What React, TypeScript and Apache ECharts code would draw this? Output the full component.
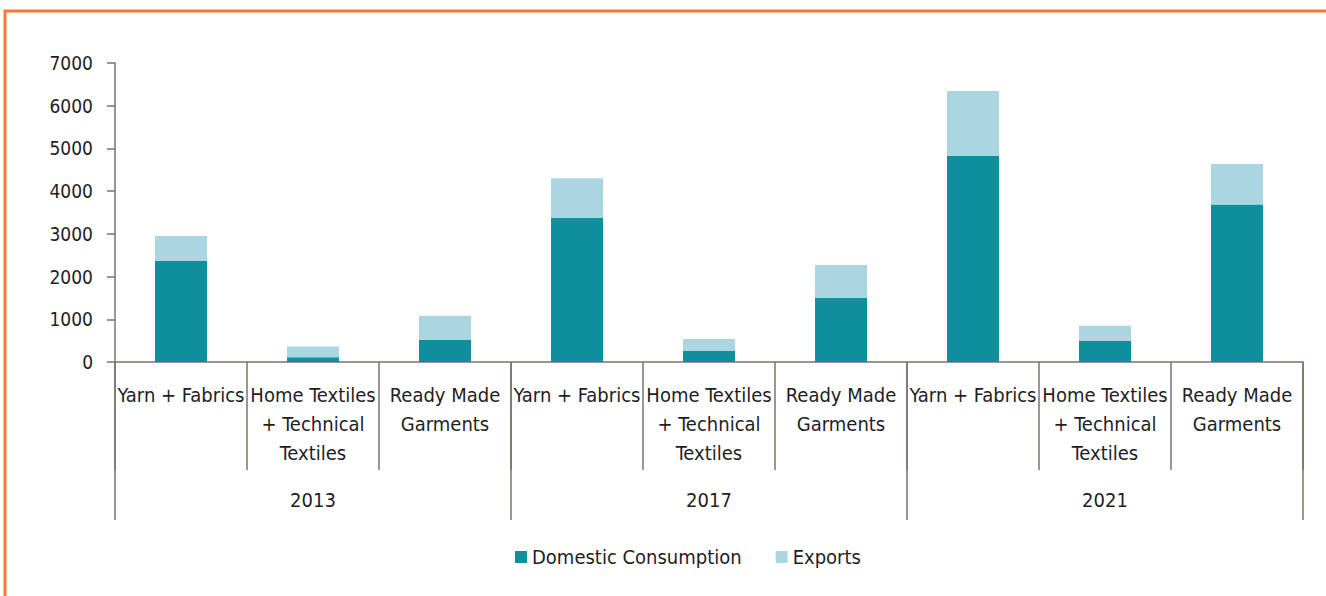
import React, { useEffect, useRef } from "react";
import * as echarts from "echarts";

const years = ["2013", "2017", "2021"];
const segments = ["Yarn + Fabrics", "Home Textiles\n+ Technical\nTextiles", "Ready Made\nGarments"];
const categories = years.flatMap((y) => segments.map((s) => `${y}|${s}`));
const domestic = [2370, 110, 515, 3380, 258, 1506, 4830, 500, 3690];
const exportsData = [580, 250, 565, 920, 280, 766, 1515, 350, 945];
const yTicks = [0, 1000, 2000, 3000, 4000, 5000, 6000, 7000];

const FONT = "'Liberation Sans Narrow', 'DejaVu Sans Condensed', 'Roboto', sans-serif";
const AXIS_COLOR = "#7d726e";
const TEXT_COLOR = "#1e1e24";

export default function App() {
  const ref = useRef<HTMLDivElement>(null);
  useEffect(() => {
    document.body.style.margin = "0";
    const chart = echarts.init(ref.current!, undefined, { renderer: "svg" });
    chart.setOption({
      animation: false,
      backgroundColor: "#ffffff",
      textStyle: { fontFamily: FONT },
      grid: { left: 115, right: 23, top: 63, bottom: 234, containLabel: false },
      legend: {
        bottom: 24,
        left: 510,
        icon: "rect",
        itemWidth: 12,
        itemHeight: 12,
        itemGap: 34,
        textStyle: { fontFamily: FONT, fontSize: 20, color: TEXT_COLOR },
        data: ["Domestic Consumption", "Exports"],
      },
      graphic: [
        {
          type: "polyline",
          shape: { points: [[5, 596], [5, 11], [1326, 11]] },
          style: { stroke: "#f47a35", lineWidth: 3, fill: "none" },
          z: 100,
        },
      ],
      xAxis: [
        {
          type: "category",
          data: categories,
          position: "bottom",
          axisLine: { show: true, lineStyle: { color: AXIS_COLOR, width: 1.5 } },
          axisTick: { show: true, interval: 0, length: 108, lineStyle: { color: AXIS_COLOR, width: 1.5 } },
          axisLabel: {
            interval: 0,
            margin: 18,
            fontFamily: FONT,
            fontSize: 20,
            lineHeight: 29,
            color: TEXT_COLOR,
            formatter: (v: string) => v.split("|")[1],
          },
        },
        {
          type: "category",
          data: years,
          position: "bottom",
          axisLine: { show: false },
          axisTick: { show: true, interval: 0, length: 158, lineStyle: { color: AXIS_COLOR, width: 1.5 } },
          axisLabel: { interval: 0, margin: 128, fontFamily: FONT, fontSize: 20, color: TEXT_COLOR },
        },
      ],
      yAxis: {
        type: "value",
        min: yTicks[0],
        max: yTicks[yTicks.length - 1],
        interval: 1000,
        splitLine: { show: false },
        axisLine: { show: true, lineStyle: { color: AXIS_COLOR, width: 1.5 } },
        axisTick: { show: true, length: 8, lineStyle: { color: AXIS_COLOR, width: 1.5 } },
        axisLabel: {
          fontFamily: FONT,
          fontSize: 19,
          color: TEXT_COLOR,
          margin: 22,
          formatter: (v: number) => String(v),
        },
      },
      series: [
        {
          name: "Domestic Consumption",
          type: "bar",
          stack: "total",
          xAxisIndex: 0,
          barWidth: 52,
          itemStyle: { color: "#0f8f9d" },
          data: domestic,
        },
        {
          name: "Exports",
          type: "bar",
          stack: "total",
          xAxisIndex: 0,
          barWidth: 52,
          itemStyle: { color: "#a9d6df" },
          data: exportsData,
        },
      ],
    });
    return () => chart.dispose();
  }, []);
  return <div ref={ref} style={{ width: 1326, height: 596 }} />;
}
